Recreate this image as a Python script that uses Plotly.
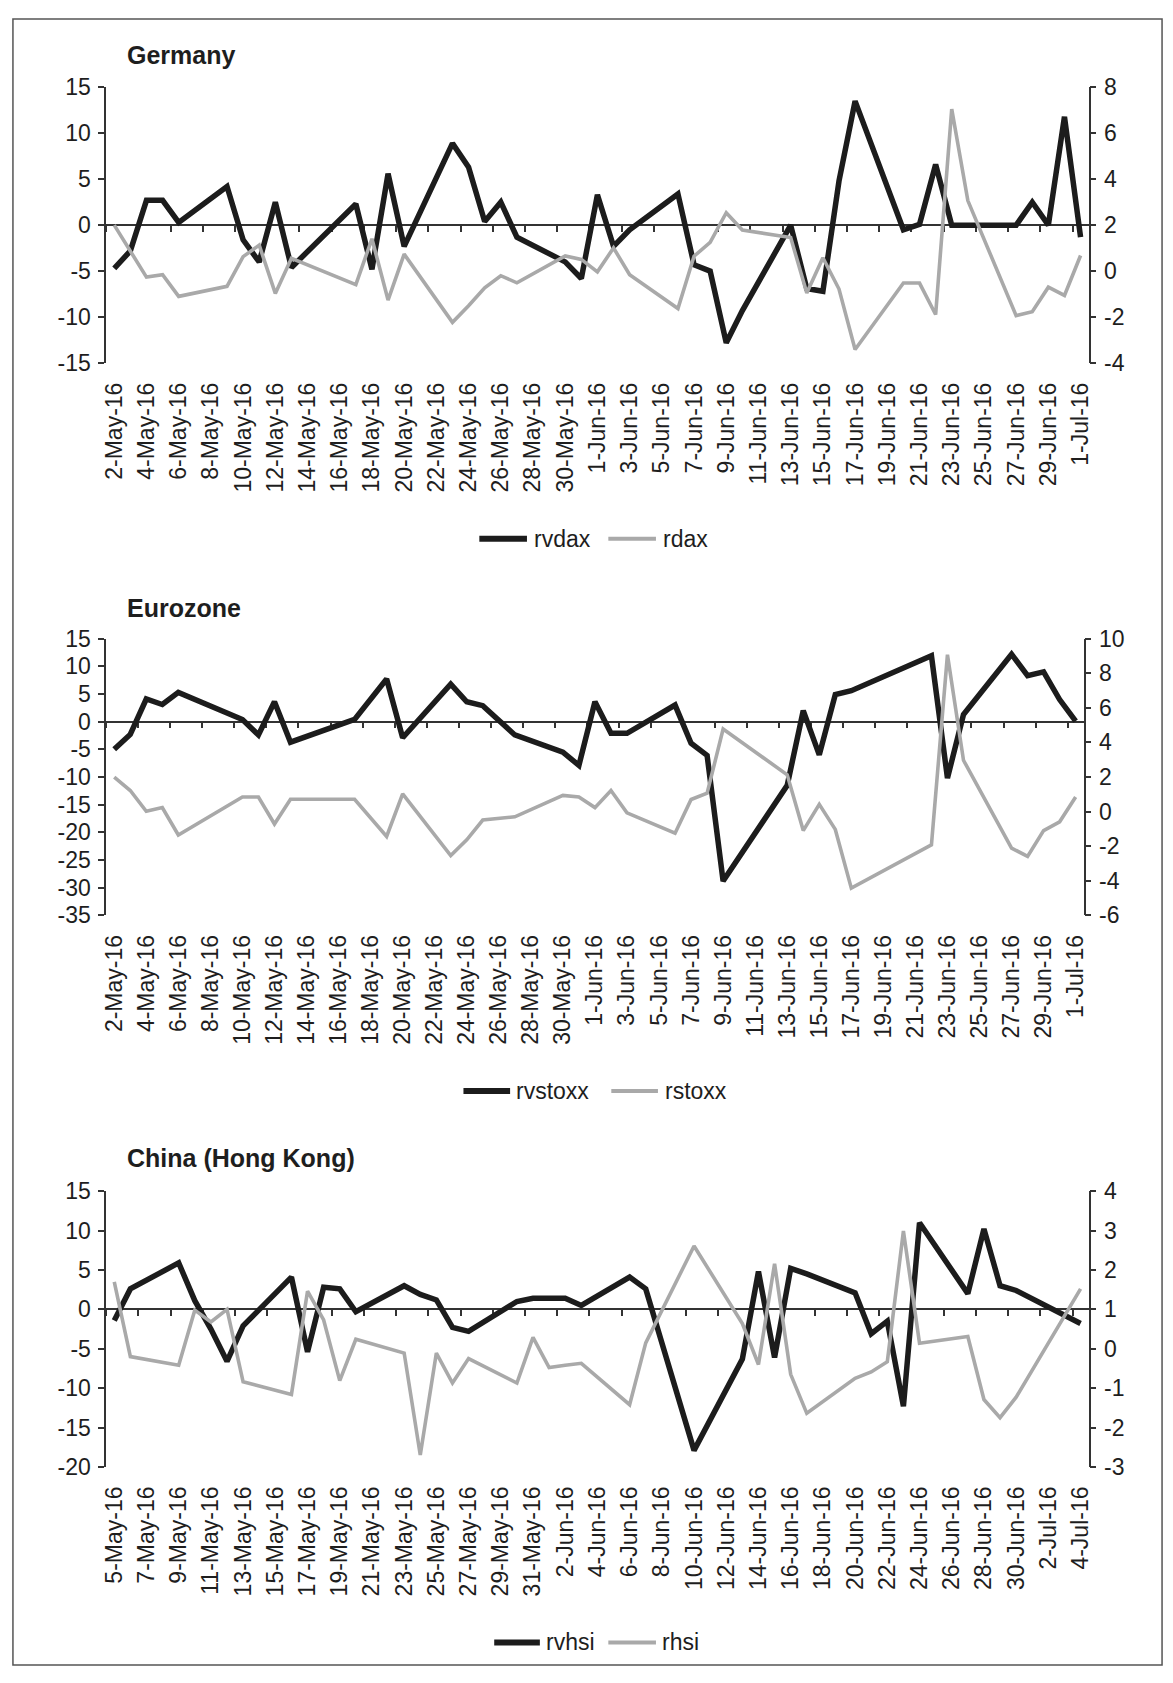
import datetime as dt
import plotly.graph_objects as go

W, H = 1173, 1683

FONT = "Liberation Sans, Arial, Helvetica, sans-serif"
INK = "#1e1e1e"
AXIS = "#333333"
BLACK = "#1c1c1c"
GREY = "#a9a9a9"
DAY = 86400000

# ---------------- Germany ----------------
de_dates = [
    "2016-05-02", "2016-05-03", "2016-05-04", "2016-05-05", "2016-05-06",
    "2016-05-09", "2016-05-10", "2016-05-11", "2016-05-12", "2016-05-13",
    "2016-05-17", "2016-05-18", "2016-05-19", "2016-05-20",
    "2016-05-23", "2016-05-24", "2016-05-25", "2016-05-26", "2016-05-27",
    "2016-05-30", "2016-05-31", "2016-06-01", "2016-06-02", "2016-06-03",
    "2016-06-06", "2016-06-07", "2016-06-08", "2016-06-09", "2016-06-10",
    "2016-06-13", "2016-06-14", "2016-06-15", "2016-06-16", "2016-06-17",
    "2016-06-20", "2016-06-21", "2016-06-22", "2016-06-23", "2016-06-24",
    "2016-06-27", "2016-06-28", "2016-06-29", "2016-06-30", "2016-07-01",
]
rvdax = [
    -4.7, -2.8, 2.7, 2.7, 0.3,
    4.2, -1.6, -4.0, 2.5, -4.6,
    2.3, -4.8, 5.6, -2.3,
    8.9, 6.3, 0.4, 2.5, -1.3,
    -4.0, -5.8, 3.3, -2.3, -0.5,
    3.4, -4.3, -5.0, -12.8, -9.3,
    0.0, -6.9, -7.2, 4.8, 13.5,
    -0.5, 0.1, 6.6, 0.0, 0.0,
    0.0, 2.5, 0.0, 11.8, -1.3,
]
rdax = [
    2.0, 0.9, -0.26, -0.16, -1.1,
    -0.66, 0.63, 1.13, -0.97, 0.56,
    -0.59, 1.41, -1.26, 0.74,
    -2.23, -1.51, -0.73, -0.2, -0.51,
    0.66, 0.51, -0.03, 1.01, -0.16,
    -1.63, 0.65, 1.25, 2.54, 1.79,
    1.46, -0.95, 0.58, -0.78, -3.41,
    -0.52, -0.52, -1.89, 7.05, 3.07,
    -1.94, -1.77, -0.7, -1.06, 0.68,
]
de_left_ticks = [-15, -10, -5, 0, 5, 10, 15]
de_right_ticks = [-4, -2, 0, 2, 4, 6, 8]

# ---------------- Eurozone ----------------
ez_dates = [
    "2016-05-02", "2016-05-03", "2016-05-04", "2016-05-05", "2016-05-06",
    "2016-05-10", "2016-05-11", "2016-05-12", "2016-05-13",
    "2016-05-17", "2016-05-19", "2016-05-20",
    "2016-05-23", "2016-05-24", "2016-05-25", "2016-05-27",
    "2016-05-30", "2016-05-31", "2016-06-01", "2016-06-02", "2016-06-03",
    "2016-06-06", "2016-06-07", "2016-06-08", "2016-06-09",
    "2016-06-13", "2016-06-14", "2016-06-15", "2016-06-16", "2016-06-17",
    "2016-06-22", "2016-06-23", "2016-06-24",
    "2016-06-27", "2016-06-28", "2016-06-29", "2016-06-30", "2016-07-01",
]
rvstoxx = [
    -5.0, -2.3, 4.1, 3.1, 5.3,
    0.4, -2.4, 3.6, -3.7,
    0.4, 7.7, -2.9,
    6.8, 3.6, 2.9, -2.4,
    -5.5, -7.9, 3.6, -2.1, -2.1,
    3.0, -3.9, -6.1, -28.8,
    -11.5, 2.0, -6.0, 4.9, 5.6,
    11.9, -10.2, 1.3,
    12.2, 8.3, 9.0, 4.0, 0.1,
]
rstoxx = [
    2.0, 1.22, 0.02, 0.23, -1.35,
    0.84, 0.84, -0.72, 0.71,
    0.71, -1.44, 1.03,
    -2.54, -1.63, -0.49, -0.3,
    0.94, 0.84, 0.23, 1.22, -0.07,
    -1.25, 0.70, 1.06, 4.77,
    2.13, -1.10, 0.42, -1.03, -4.43,
    -1.92, 9.07, 2.97,
    -2.11, -2.59, -1.10, -0.59, 0.84,
]
ez_left_ticks = [-35, -30, -25, -20, -15, -10, -5, 0, 5, 10, 15]
ez_right_ticks = [-6, -4, -2, 0, 2, 4, 6, 8, 10]

# ---------------- China (Hong Kong) ----------------
hk_dates = [
    "2016-05-05", "2016-05-06",
    "2016-05-09", "2016-05-10", "2016-05-11", "2016-05-12", "2016-05-13",
    "2016-05-16", "2016-05-17", "2016-05-18", "2016-05-19", "2016-05-20",
    "2016-05-23", "2016-05-24", "2016-05-25", "2016-05-26", "2016-05-27",
    "2016-05-30", "2016-05-31", "2016-06-01", "2016-06-02", "2016-06-03",
    "2016-06-06", "2016-06-07", "2016-06-10",
    "2016-06-13", "2016-06-14", "2016-06-15", "2016-06-16", "2016-06-17",
    "2016-06-20", "2016-06-21", "2016-06-22", "2016-06-23", "2016-06-24",
    "2016-06-27", "2016-06-28", "2016-06-29", "2016-06-30", "2016-07-04",
]
rvhsi = [
    -1.4, 2.6,
    5.9, 1.1, -2.5, -6.6, -2.1,
    4.1, -5.4, 2.8, 2.6, -0.3,
    3.0, 1.9, 1.2, -2.3, -2.8,
    1.0, 1.4, 1.4, 1.4, 0.5,
    4.1, 2.6, -17.9,
    -6.3, 4.8, -6.1, 5.2, 4.5,
    2.1, -3.1, -1.5, -12.3, 11.0,
    2.0, 10.2, 3.0, 2.4, -1.8,
]
rhsi = [
    1.7, -0.2,
    -0.42, 0.98, 0.68, 1.0, -0.84,
    -1.16, 1.46, 0.73, -0.81, 0.24,
    -0.11, -2.7, -0.11, -0.87, -0.25,
    -0.87, 0.29, -0.48, -0.42, -0.37,
    -1.42, 0.15, 2.61,
    0.64, -0.4, 2.16, -0.65, -1.64,
    -0.75, -0.59, -0.33, 2.99, 0.14,
    0.31, -1.29, -1.75, -1.23, 1.52,
]
hk_left_ticks = [-20, -15, -10, -5, 0, 5, 10, 15]
hk_right_ticks = [-3, -2, -1, 0, 1, 2, 3, 4]

# Pixel geometry of each panel
panels = [
    dict(title="Germany", dates=de_dates, s1=rvdax, s2=rdax, n1="rvdax", n2="rdax",
         start="2016-05-02", end="2016-07-01",
         lt=de_left_ticks, rt=de_right_ticks,
         x0=102, x1=1092, top=75.5, bot=355.5, title_y=43,
         legend_y=534, key1=(478, 526), text1=531, key2=(608, 656), text2=661),
    dict(title="Eurozone", dates=ez_dates, s1=rvstoxx, s2=rstoxx, n1="rvstoxx", n2="rstoxx",
         start="2016-05-02", end="2016-07-01",
         lt=ez_left_ticks, rt=ez_right_ticks,
         x0=102, x1=1087, top=635.5, bot=916.5, title_y=604,
         legend_y=1095, key1=(462, 509), text1=513, key2=(611, 658), text2=663),
    dict(title="China (Hong Kong)", dates=hk_dates, s1=rvhsi, s2=rhsi, n1="rvhsi", n2="rhsi",
         start="2016-05-05", end="2016-07-04",
         lt=hk_left_ticks, rt=hk_right_ticks,
         x0=102, x1=1092, top=1196.7, bot=1476.7, title_y=1163,
         legend_y=1655, key1=(493, 539), text1=543, key2=(608, 656), text2=660),
]


def fx(v):
    return v / W


def fy(v):
    return 1 - v / H


def ax_name(prefix, i):
    return prefix if i == 1 else f"{prefix}{i}"


tick_font = dict(family=FONT, size=23, color=INK)
legend_font = dict(family=FONT, size=23, color=INK)
fig = go.Figure()
layout = {}
annotations = []
shapes = []

for k, p in enumerate(panels):
    xl, xt = 2 * k + 1, 2 * k + 2
    yl, yr = 2 * k + 1, 2 * k + 2

    fig.add_trace(go.Scatter(
        x=p["dates"], y=p["s1"], name=p["n1"], mode="lines",
        line=dict(color=BLACK, width=5.5), showlegend=False,
        xaxis=ax_name("x", xl), yaxis=ax_name("y", yl)))
    fig.add_trace(go.Scatter(
        x=p["dates"], y=p["s2"], name=p["n2"], mode="lines",
        line=dict(color=GREY, width=3.6), showlegend=False,
        xaxis=ax_name("x", xl), yaxis=ax_name("y", yr)))
    # empty carrier so the zero-crossing date axis gets drawn
    fig.add_trace(go.Scatter(
        x=[p["dates"][0]], y=[None], mode="lines", showlegend=False,
        hoverinfo="skip", xaxis=ax_name("x", xt), yaxis=ax_name("y", yl)))

    xdom = [fx(p["x0"]), fx(p["x1"])]
    ydom = [fy(p["bot"]), fy(p["top"])]
    lo, hi = p["lt"][0], p["lt"][-1]
    zero_pos = ydom[0] + (0 - lo) / (hi - lo) * (ydom[1] - ydom[0])

    # range spans half a day either side of the first and last dates
    s = dt.datetime.fromisoformat(p["start"])
    e = dt.datetime.fromisoformat(p["end"])
    xr = [(s - dt.timedelta(hours=12)).isoformat(sep=" "),
          (e + dt.timedelta(hours=12)).isoformat(sep=" ")]

    layout[ax_name("xaxis", xl)] = dict(
        domain=xdom, range=xr, type="date", anchor=ax_name("y", yl),
        tickmode="linear", tick0=p["start"], dtick=2 * DAY,
        tickformat="%-d-%b-%y", tickangle=-90, ticks="",
        showline=False, showgrid=False, zeroline=False,
        tickfont=tick_font, ticklabelstandoff=14)
    layout[ax_name("xaxis", xt)] = dict(
        domain=xdom, range=xr, type="date", overlaying=ax_name("x", xl),
        anchor="free", position=zero_pos,
        tickmode="linear", tick0=xr[0], dtick=2 * DAY,
        ticks="outside", ticklen=6, tickwidth=1.5, tickcolor=AXIS,
        showticklabels=False, showline=True, linecolor=AXIS, linewidth=1.5,
        showgrid=False, zeroline=False, layer="below traces")
    yaxis_style = dict(
        showline=True, linecolor=AXIS, linewidth=1.5,
        ticks="outside", ticklen=6, tickwidth=1.5, tickcolor=AXIS,
        showgrid=False, zeroline=False, tickfont=tick_font, ticklabelstandoff=3)
    layout[ax_name("yaxis", yl)] = dict(
        domain=ydom, range=[lo, hi], tickmode="array",
        tickvals=p["lt"], ticktext=[str(v) for v in p["lt"]],
        anchor=ax_name("x", xl), side="left", **yaxis_style)
    layout[ax_name("yaxis", yr)] = dict(
        domain=ydom, range=[p["rt"][0], p["rt"][-1]], tickmode="array",
        tickvals=p["rt"], ticktext=[str(v) for v in p["rt"]],
        anchor=ax_name("x", xl), overlaying=ax_name("y", yl), side="right", **yaxis_style)

    # legend keys and labels under each panel
    ly = fy(p["legend_y"])
    for (a, b), tx, name, col, wd in [
        (p["key1"], p["text1"], p["n1"], BLACK, 6),
        (p["key2"], p["text2"], p["n2"], GREY, 4),
    ]:
        shapes.append(dict(type="line", xref="paper", yref="paper",
                           x0=fx(a), x1=fx(b), y0=ly, y1=ly,
                           line=dict(color=col, width=wd)))
        annotations.append(dict(
            text=name, xref="paper", yref="paper", x=fx(tx), y=ly,
            xanchor="left", yanchor="middle", showarrow=False, font=legend_font))

    annotations.append(dict(
        text=f"<b>{p['title']}</b>", xref="paper", yref="paper",
        x=fx(121), y=fy(p["title_y"]), xanchor="left", yanchor="middle",
        showarrow=False, font=dict(family=FONT, size=25, color=INK)))

# outer frame round the whole figure
shapes.append(dict(type="rect", xref="paper", yref="paper",
                   x0=fx(8), x1=fx(1166), y0=fy(1678), y1=fy(6),
                   line=dict(color="#555555", width=1.5)))

fig.update_layout(
    width=W, height=H, margin=dict(l=0, r=0, t=0, b=0),
    paper_bgcolor="white", plot_bgcolor="white", hovermode=False,
    showlegend=False, annotations=annotations, shapes=shapes,
    **layout)

fig.write_html("out.html")
